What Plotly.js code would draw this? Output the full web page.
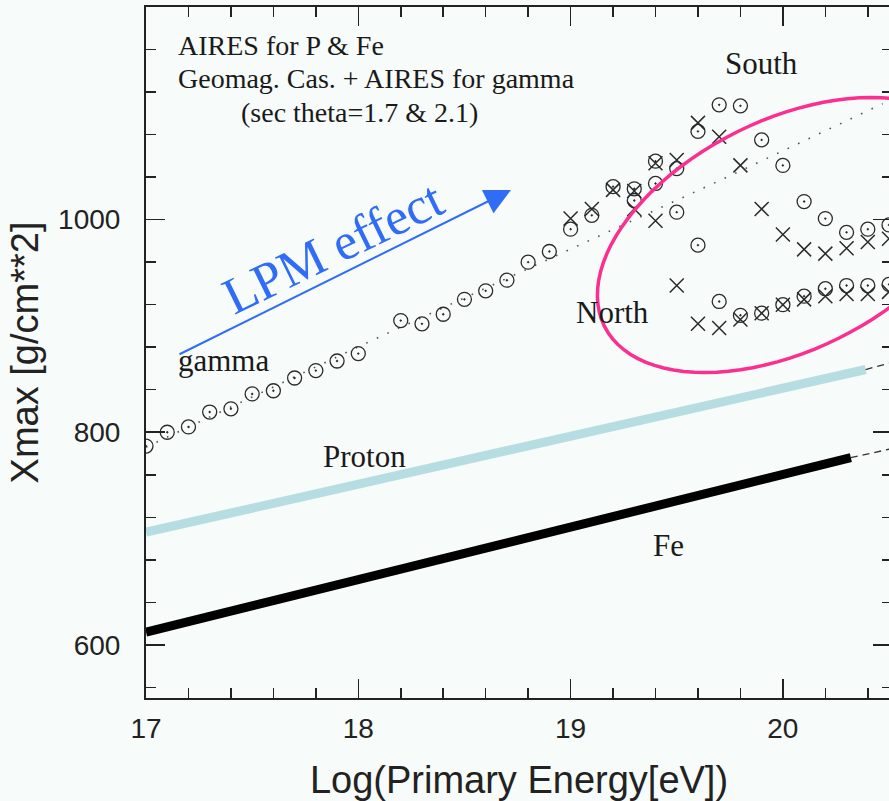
<!DOCTYPE html>
<html>
<head>
<meta charset="utf-8">
<script src="https://cdn.plot.ly/plotly-3.0.1.min.js"></script>
<style>
  html, body { margin: 0; padding: 0; overflow: hidden; background: #f7fbf9; }
  #chart { width: 892px; height: 801px; }
</style>
</head>
<body>
<div id="chart"></div>
<script>
// ---------- data ----------
// gamma, common points before the North/South split (circles: sec theta = 1.7)
var circleSharedE = [17.0, 17.1, 17.2, 17.3, 17.4, 17.5, 17.6, 17.7, 17.8, 17.9, 18.0,
                     18.2, 18.3, 18.4, 18.5, 18.6, 18.7, 18.8, 18.9, 19.0, 19.1, 19.2];
var circleSharedX = [787, 800, 805, 819, 822, 836, 839, 851, 858, 867, 874,
                     905, 902, 911, 925, 933, 943, 960, 970, 991, 1004, 1031];
var splitE = [19.3, 19.4, 19.5, 19.6, 19.7, 19.8, 19.9, 20.0, 20.1, 20.2, 20.3, 20.4, 20.5];
var circleSouthX = [1029, 1055, 1048, 1083, 1108, 1107, 1075, 1051, 1017, 1001, 988, 991, 995];
var circleNorthX = [1018, 1034, 1007, 976, 923, 910, 912, 920, 928, 935, 938, 938, 939];

// crosses: sec theta = 2.1
var crossSharedE = [19.0, 19.1, 19.2];
var crossSharedX = [1001, 1010, 1028];
var crossSouthX = [1027, 1053, 1056, 1091, 1078, 1051, 1010, 986, 972, 968, 973, 979, 982];
var crossNorthX = [1010, 999, 938, 902, 898, 906, 912, 920, 925, 928, 930, 930, 932];

// LPM extrapolation (dotted line)
var lpmE = [17.0, 18.05, 19.77, 20.47];
var lpmX = [786, 885, 1043, 1109];

// AIRES proton and iron
var protonE = [17.0, 20.39];
var protonX = [706, 859];
var protonExtE = [20.39, 20.5];
var protonExtX = [859, 865];
var feE = [17.0, 20.32];
var feX = [612, 776];
var feExtE = [20.32, 20.5];
var feExtX = [776, 784];

var xTickVals = [17, 18, 19, 20];
var xTickText = ['17', '18', '19', '20'];
var yTickVals = [600, 800, 1000];
var yTickText = ['600', '800', '1000'];

// ---------- layout geometry ----------
var W = 892, H = 801;
var M = {l: 146, r: 0, t: 7, b: 103};
var xRange = [17, 20.514];
var yRange = [550, 1200];
var plotW = W - M.l - M.r, plotH = H - M.t - M.b;
function pxToE(px) { return xRange[0] + (px - M.l) / plotW * (xRange[1] - xRange[0]); }
function pyToX(py) { return yRange[1] - (py - M.t) / plotH * (yRange[1] - yRange[0]); }

// rotated ellipse (annotation) defined in pixel space
var ell = {cx: 788, cy: 235, a: 205, b: 115, deg: 26.4};
function ellipsePath() {
  var th = ell.deg * Math.PI / 180, c = Math.cos(th), s = Math.sin(th);
  var parts = [];
  for (var i = 0; i <= 96; i++) {
    var p = i / 96 * 2 * Math.PI;
    var u = ell.a * Math.cos(p), v = ell.b * Math.sin(p);
    var px = ell.cx + u * c + v * s;
    var py = ell.cy - u * s + v * c;
    parts.push((i === 0 ? 'M' : 'L') + pxToE(px).toFixed(5) + ',' + pyToX(py).toFixed(3));
  }
  return parts.join(' ') + ' Z';
}

var ink = '#2a2a2a';
var blue = '#2f6df6';

var circleMarker = {symbol: 'circle-open-dot', size: 14, color: ink, line: {width: 1.3, color: ink}};
var crossMarker = {symbol: 'x-thin-open', size: 14, color: ink, line: {width: 1.5, color: ink}};

var traces = [
  {x: feE, y: feX, mode: 'lines', line: {color: '#000000', width: 9}, hoverinfo: 'skip'},
  {x: feExtE, y: feExtX, mode: 'lines', line: {color: '#333333', width: 1.3, dash: '7px,5px'}, hoverinfo: 'skip'},
  {x: protonE, y: protonX, mode: 'lines', line: {color: '#b6dde1', width: 9}, hoverinfo: 'skip'},
  {x: protonExtE, y: protonExtX, mode: 'lines', line: {color: '#333333', width: 1.3, dash: '7px,5px'}, hoverinfo: 'skip'},
  {x: lpmE, y: lpmX, mode: 'lines', line: {color: '#555555', width: 1.6, dash: '1.6px,10px'}, hoverinfo: 'skip'},
  {x: circleSharedE, y: circleSharedX, mode: 'markers', marker: circleMarker},
  {x: splitE, y: circleSouthX, mode: 'markers', marker: circleMarker},
  {x: splitE, y: circleNorthX, mode: 'markers', marker: circleMarker},
  {x: crossSharedE, y: crossSharedX, mode: 'markers', marker: crossMarker},
  {x: splitE, y: crossSouthX, mode: 'markers', marker: crossMarker},
  {x: splitE, y: crossNorthX, mode: 'markers', marker: crossMarker}
];

var serif = 'Liberation Serif, Times New Roman, serif';
var sans = 'Liberation Sans, Arial, sans-serif';

function label(text, px, py, size, anchor) {
  return {
    x: pxToE(px), y: pyToX(py), xref: 'x', yref: 'y', text: text, showarrow: false,
    xanchor: anchor || 'center', yanchor: 'middle',
    font: {family: serif, size: size, color: '#1a1a1a'}
  };
}

var annotations = [
  label('AIRES for P &amp; Fe', 176, 45, 28, 'left'),
  label('Geomag. Cas. + AIRES for gamma', 176, 78, 28, 'left'),
  label('(sec theta=1.7 &amp; 2.1)', 239, 112, 28, 'left'),
  label('South', 761, 63, 31),
  label('North', 612, 312, 31),
  label('gamma', 223, 360, 31),
  label('Proton', 364, 456, 31),
  label('Fe', 668, 545, 31),
  {
    x: pxToE(333), y: pyToX(247), xref: 'x', yref: 'y', text: 'LPM effect', showarrow: false,
    textangle: -26, xanchor: 'center', yanchor: 'middle',
    font: {family: serif, size: 52, color: blue}
  },
  {
    x: pxToE(511), y: pyToX(190), ax: pxToE(178), ay: pyToX(355),
    xref: 'x', yref: 'y', axref: 'x', ayref: 'y', text: '', showarrow: true,
    arrowhead: 2, arrowsize: 2.6, arrowwidth: 2, arrowcolor: blue, standoff: 0, startstandoff: 0
  }
];

var axisCommon = {
  showgrid: false, zeroline: false, showline: true, linewidth: 2, linecolor: '#222222',
  mirror: 'allticks', ticks: 'inside', ticklen: 19, tickwidth: 1.5, tickcolor: '#222222',
  tickfont: {family: sans, size: 28, color: '#222222'}
};

var layout = {
  width: W, height: H, margin: M,
  paper_bgcolor: '#f7fbf9', plot_bgcolor: '#f7fbf9',
  showlegend: false,
  xaxis: Object.assign({}, axisCommon, {
    range: xRange, tickmode: 'array', tickvals: xTickVals, ticktext: xTickText,
    ticklabelstandoff: 4,
    minor: {tickmode: 'linear', tick0: 17, dtick: 0.2, ticks: 'inside', ticklen: 10, tickwidth: 1.5, tickcolor: '#222222'},
    title: {text: 'Log(Primary Energy[eV])', font: {family: sans, size: 38, color: '#222222'}, standoff: 26}
  }),
  yaxis: Object.assign({}, axisCommon, {
    range: yRange, tickmode: 'array', tickvals: yTickVals, ticktext: yTickText,
    ticklabelstandoff: 18,
    minor: {tickmode: 'linear', tick0: 0, dtick: 40, ticks: 'inside', ticklen: 10, tickwidth: 1.5, tickcolor: '#222222'},
    title: {text: 'Xmax [g/cm**2]', font: {family: sans, size: 38, color: '#222222'}, standoff: 8}
  }),
  shapes: [
    {type: 'path', xref: 'x', yref: 'y', path: ellipsePath(), line: {color: '#fb2f8f', width: 3.5}, fillcolor: 'rgba(0,0,0,0)'}
  ],
  annotations: annotations
};

Plotly.newPlot('chart', traces, layout, {staticPlot: true, displayModeBar: false});
</script>
</body>
</html>
